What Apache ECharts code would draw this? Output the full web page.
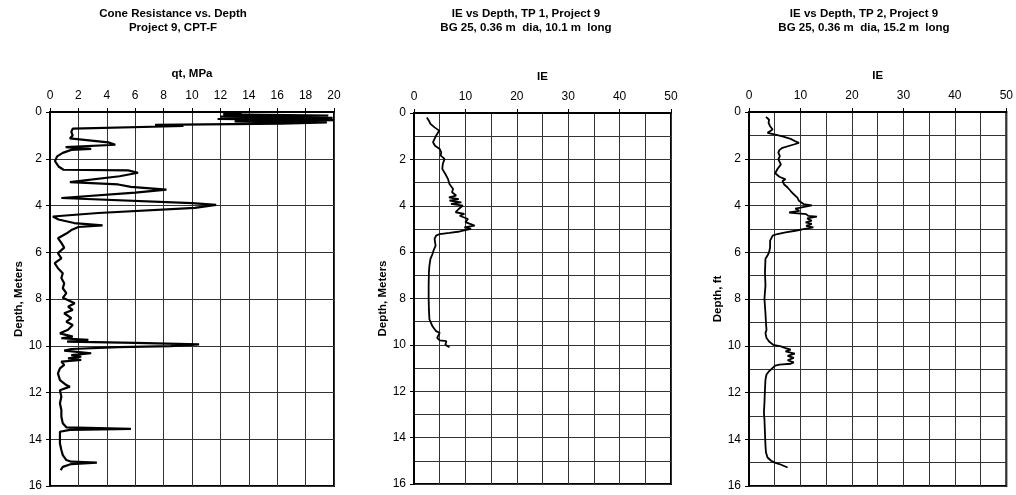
<!DOCTYPE html>
<html>
<head>
<meta charset="utf-8">
<script src="https://cdn.jsdelivr.net/npm/echarts@6/dist/echarts.min.js"></script>
<style>
html,body{margin:0;padding:0;background:#fff;}
#c{width:1016px;height:495px;}
</style>
</head>
<body>
<div id="c"></div>
<script>
// Panel 1: Cone resistance qt (MPa) vs depth (m)
const cptDepth = [0.0,0.05,0.1,0.15,0.2,0.25,0.3,0.35,0.4,0.45,0.5,0.55,0.6,0.71,0.85,1.0,1.13,1.21,1.3,1.4,1.5,1.58,1.62,1.75,1.9,2.1,2.33,2.47,2.5,2.6,2.75,3.0,3.1,3.2,3.32,3.45,3.68,3.9,3.97,4.1,4.32,4.47,4.6,4.75,4.85,4.92,4.97,5.05,5.2,5.4,5.6,5.8,6.04,6.26,6.47,6.68,6.9,7.1,7.33,7.54,7.75,7.95,8.18,8.33,8.47,8.61,8.82,8.97,9.11,9.32,9.47,9.61,9.68,9.75,9.82,9.88,9.94,10.02,10.06,10.14,10.21,10.32,10.4,10.47,10.54,10.61,10.68,10.82,10.97,11.18,11.47,11.68,11.75,11.9,12.18,12.46,12.75,13.03,13.32,13.49,13.56,13.6,13.68,13.89,14.18,14.46,14.68,14.89,14.96,15.0,15.06,15.18,15.32];
const cptQt    = [12.0,13.5,12.2,19.6,12.0,19.9,11.8,20,13.0,19.5,16.3,7.4,9.4,1.6,1.5,1.6,1.4,1.3,4.1,4.6,1.1,2.9,1.5,0.9,0.5,0.35,0.6,0.95,5.5,6.2,4.9,1.4,4.8,5.7,8.2,6.0,0.8,10.0,11.7,10.2,3.4,0.2,0.6,1.7,3.7,2.0,1.8,1.5,1.15,0.56,0.8,1.0,0.56,0.8,0.33,0.56,0.9,0.8,1.0,0.9,1.15,0.9,1.74,1.27,1.6,1.0,1.5,1.15,1.6,1.27,0.7,1.6,0.8,2.7,1.2,6.0,10.5,8.5,4.8,1.5,1.0,2.9,1.5,2.2,1.27,2.2,0.8,1.0,0.7,0.56,0.7,1.15,1.4,0.7,0.8,0.7,0.8,0.8,0.9,1.15,5.7,1.4,0.7,0.7,0.7,0.8,0.9,1.15,1.5,3.3,1.5,0.9,0.75];

// Panel 2: IE vs depth, TP 1
const tp1Depth = [0.19,0.33,0.47,0.62,0.76,0.83,0.98,1.12,1.26,1.41,1.55,1.70,1.84,1.98,2.2,2.41,2.63,2.84,3.06,3.28,3.42,3.56,3.64,3.71,3.78,3.85,3.92,3.99,4.14,4.28,4.35,4.43,4.57,4.71,4.86,4.93,5.0,5.11,5.17,5.22,5.29,5.43,5.72,5.93,6.08,6.29,6.58,6.87,7.44,8.0,8.47,8.9,9.2,9.41,9.48,9.55,9.7,9.81,9.84,9.91,9.99,10.1];
const tp1IE    = [2.5,2.9,3.2,4.0,4.9,5.2,4.3,4.0,3.7,4.1,5.0,5.3,5.2,5.95,5.6,5.5,6.1,6.6,6.9,7.6,7.4,8.2,6.8,8.7,6.9,9.2,7.2,9.5,8.7,8.1,9.8,8.9,10.5,10.0,11.8,9.8,11.1,8.9,6.9,5.0,4.3,4.0,4.2,3.8,3.6,3.2,3.0,2.9,2.85,2.85,2.9,3.0,3.6,4.3,5.0,4.7,4.5,5.0,6.3,6.6,6.1,6.9];

// Panel 3: IE vs depth, TP 2
const tp2Depth = [0.21,0.33,0.47,0.61,0.75,0.82,0.89,0.96,1.04,1.15,1.25,1.32,1.39,1.53,1.63,1.74,1.89,2.03,2.24,2.45,2.62,2.77,2.88,2.95,3.09,3.23,3.38,3.52,3.66,3.8,3.94,3.99,4.09,4.13,4.23,4.30,4.37,4.44,4.48,4.55,4.65,4.72,4.79,4.87,4.94,5.01,5.08,5.15,5.22,5.29,5.36,5.5,5.79,6.0,6.14,6.28,6.85,7.42,8.0,8.61,9.04,9.32,9.46,9.67,9.82,9.96,10.03,10.1,10.17,10.24,10.34,10.43,10.52,10.62,10.71,10.77,10.81,10.85,10.95,11.09,11.23,11.45,11.87,12.44,12.87,13.15,13.72,14.28,14.57,14.78,14.92,14.99,15.06,15.21];
const tp2IE    = [3.3,3.9,3.8,4.1,4.6,4.3,3.6,4.9,6.5,8.1,9.0,9.7,8.7,6.5,5.9,5.7,6.0,5.7,6.2,5.5,5.1,5.9,7.1,6.5,6.8,7.5,8.1,8.7,9.4,9.7,10.6,12.2,10.0,9.0,9.8,7.8,11.1,11.5,13.2,11.3,12.2,11.0,12.2,11.1,12.5,10.6,9.0,7.1,5.5,4.6,4.3,4.1,4.1,3.9,3.6,3.2,3.1,3.2,3.0,3.2,3.3,3.4,3.2,3.4,3.9,4.7,6.2,7.1,8.1,7.1,8.9,7.5,8.7,7.5,8.7,8.1,5.9,5.1,4.6,3.9,3.4,3.2,3.1,3.0,2.9,3.0,3.1,3.2,3.3,3.6,4.3,4.9,5.9,7.5];

const FONT = 'Liberation Sans, Arial, sans-serif';
const GRIDC = '#333';

function zip(xs, ys){ return xs.map((x,i)=>[x, ys[i]]); }

function xAx(idx, max, interval, minor, name, nameGap){
  return {
    gridIndex: idx, type: 'value', position: 'top', min: 0, max: max, interval: interval,
    name: name, nameLocation: 'middle', nameGap: nameGap,
    nameTextStyle: {fontFamily: FONT, fontWeight: 'bold', fontSize: 11.5, color: '#000'},
    axisLine: {show: true, lineStyle: {color: '#000', width: 2}},
    axisTick: {show: true, length: 4, lineStyle: {color: '#000', width: 1}},
    axisLabel: {fontFamily: FONT, fontSize: 12, color: '#000', margin: 10},
    splitLine: {show: true, lineStyle: {color: GRIDC, width: 1}},
    minorTick: {show: false, splitNumber: 2},
    minorSplitLine: {show: minor, lineStyle: {color: GRIDC, width: 1}}
  };
}
function yAx(idx, minor, name){
  return {
    gridIndex: idx, type: 'value', inverse: true, min: 0, max: 16, interval: 2,
    name: name, nameLocation: 'middle', nameGap: 22, nameRotate: 90,
    nameTextStyle: {fontFamily: FONT, fontWeight: 'bold', fontSize: 11.5, color: '#000'},
    axisLine: {show: true, lineStyle: {color: '#000', width: 2}},
    axisTick: {show: true, length: 4, lineStyle: {color: '#000', width: 1}},
    axisLabel: {fontFamily: FONT, fontSize: 12, color: '#000', margin: 8},
    splitLine: {show: true, lineStyle: {color: GRIDC, width: 1}},
    minorTick: {show: false, splitNumber: 2},
    minorSplitLine: {show: minor, lineStyle: {color: GRIDC, width: 1}}
  };
}

const chart = echarts.init(document.getElementById('c'), null, {renderer: 'canvas'});
chart.setOption({
  animation: false,
  backgroundColor: '#fff',
  grid: [
    {left: 50, top: 112, width: 284, height: 374, show: true, borderColor: '#000', borderWidth: 2, backgroundColor: 'transparent'},
    {left: 414, top: 113, width: 257, height: 371, show: true, borderColor: '#000', borderWidth: 2, backgroundColor: 'transparent'},
    {left: 749, top: 112, width: 262, height: 374, show: true, borderColor: '#000', borderWidth: 2, backgroundColor: 'transparent'}
  ],
  xAxis: [
    xAx(0, 20, 2, false, 'qt, MPa', 32),
    xAx(1, 50, 10, true, 'IE', 30),
    xAx(2, 50, 10, true, 'IE', 30)
  ],
  yAxis: [
    yAx(0, false, 'Depth, Meters'),
    yAx(1, true, 'Depth, Meters'),
    yAx(2, true, 'Depth, ft')
  ],
  graphic: [
    {type: 'text', x: 173, y: 7, style: {text: 'Cone Resistance vs. Depth\nProject 9, CPT-F', font: 'bold 11.5px ' + FONT, lineHeight: 14, fill: '#000', align: 'center', textAlign: 'center'}},
    {type: 'text', x: 526, y: 7, style: {text: 'IE vs Depth, TP 1, Project 9\nBG 25, 0.36 m  dia, 10.1 m  long', font: 'bold 11.5px ' + FONT, lineHeight: 14, fill: '#000', align: 'center', textAlign: 'center'}},
    {type: 'text', x: 864, y: 7, style: {text: 'IE vs Depth, TP 2, Project 9\nBG 25, 0.36 m  dia, 15.2 m  long', font: 'bold 11.5px ' + FONT, lineHeight: 14, fill: '#000', align: 'center', textAlign: 'center'}}
  ],
  series: [
    {type: 'line', xAxisIndex: 0, yAxisIndex: 0, data: zip(cptQt, cptDepth), showSymbol: false, lineStyle: {color: '#000', width: 2.2}, z: 5},
    {type: 'line', xAxisIndex: 1, yAxisIndex: 1, data: zip(tp1IE, tp1Depth), showSymbol: false, lineStyle: {color: '#000', width: 1.8}, z: 5},
    {type: 'line', xAxisIndex: 2, yAxisIndex: 2, data: zip(tp2IE, tp2Depth), showSymbol: false, lineStyle: {color: '#000', width: 1.8}, z: 5}
  ]
});
</script>
</body>
</html>
